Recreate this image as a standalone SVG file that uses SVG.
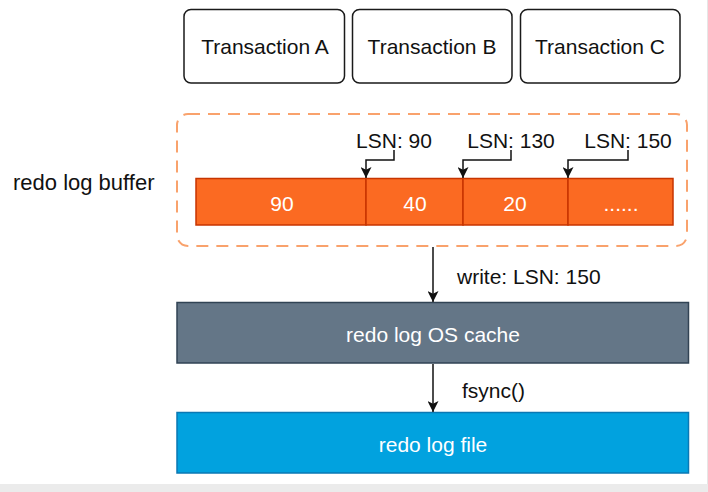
<svg xmlns="http://www.w3.org/2000/svg" width="708" height="492" viewBox="0 0 708 492">
  <style>
    text { font-family: "Liberation Sans", "Noto Sans", sans-serif; font-size: 21px; }
    .dark { fill: #111111; }
    .light { fill: #ffffff; }
    .mid { text-anchor: middle; }
    .txbox { fill: #ffffff; stroke: #1a1a1a; stroke-width: 1.5; }
    .conn { fill: none; stroke: #111111; stroke-width: 1.5; }
    .cell { fill: #FB6A22; stroke: #C73500; stroke-width: 1.5; }
  </style>
  <defs>
    <marker id="arrow" viewBox="0 0 10 10" refX="10" refY="5" markerWidth="11" markerHeight="11" markerUnits="userSpaceOnUse" orient="auto">
      <path d="M0,0 L10,5 L0,10 L2.5,5 Z" fill="#111111"/>
    </marker>
  </defs>

  <rect x="0" y="0" width="708" height="492" fill="#ffffff"/>
  <rect x="0" y="484" width="708" height="8" fill="#EBEBEB"/>
  <rect x="707" y="0" width="1" height="484" fill="#E6E6E6"/>

  <g id="transaction-a">
    <rect class="txbox" x="184" y="9.5" width="160.5" height="73.5" rx="7"/>
    <text class="dark mid" x="265" y="54">Transaction A</text>
  </g>
  <g id="transaction-b">
    <rect class="txbox" x="352.5" y="9.5" width="159.5" height="73.5" rx="7"/>
    <text class="dark mid" x="432" y="54">Transaction B</text>
  </g>
  <g id="transaction-c">
    <rect class="txbox" x="520.5" y="9.5" width="159.5" height="73.5" rx="7"/>
    <text class="dark mid" x="600" y="54">Transaction C</text>
  </g>

  <g id="redo-log-buffer-label">
    <text class="dark" x="13" y="190" style="font-size:22px">redo log buffer</text>
  </g>

  <g id="redo-log-buffer">
    <rect x="177" y="114" width="510" height="132" rx="11" fill="none" stroke="#F9A26C" stroke-width="2" stroke-dasharray="12 8"/>
    <g id="cell-90">
      <rect class="cell" x="196" y="178.5" width="170" height="46.5"/>
      <text class="light mid" x="282" y="211">90</text>
    </g>
    <g id="cell-40">
      <rect class="cell" x="366" y="178.5" width="97" height="46.5"/>
      <text class="light mid" x="415" y="211">40</text>
    </g>
    <g id="cell-20">
      <rect class="cell" x="463" y="178.5" width="105" height="46.5"/>
      <text class="light mid" x="515" y="211">20</text>
    </g>
    <g id="cell-more">
      <rect class="cell" x="568" y="178.5" width="105" height="46.5"/>
      <text class="light mid" x="621" y="211">......</text>
    </g>
    <g id="lsn-90"><text class="dark mid" x="394" y="148">LSN: 90</text></g>
    <g id="lsn-130"><text class="dark mid" x="511" y="148">LSN: 130</text></g>
    <g id="lsn-150"><text class="dark mid" x="628" y="148">LSN: 150</text></g>
  </g>

  <g id="os-cache">
    <rect x="177" y="302.5" width="511.5" height="60.5" fill="#647687" stroke="#314354" stroke-width="1.5"/>
    <text class="light mid" x="433" y="342">redo log OS cache</text>
  </g>

  <g id="log-file">
    <rect x="177" y="412.5" width="511.5" height="60.5" fill="#01A2DF" stroke="#0A78B4" stroke-width="1.5"/>
    <text class="light mid" x="433" y="452">redo log file</text>
  </g>

  <g id="connectors">
    <path class="conn" d="M394,150 V160 H366 V178" marker-end="url(#arrow)"/>
    <path class="conn" d="M511,150 V160 H463 V178" marker-end="url(#arrow)"/>
    <path class="conn" d="M628,150 V160 H568 V178" marker-end="url(#arrow)"/>
    <path class="conn" d="M433,247 V302" marker-end="url(#arrow)"/>
    <path class="conn" d="M433,364 V412" marker-end="url(#arrow)"/>
    <text class="dark" x="457" y="284">write: LSN: 150</text>
    <text class="dark" x="462" y="398">fsync()</text>
  </g>
</svg>
